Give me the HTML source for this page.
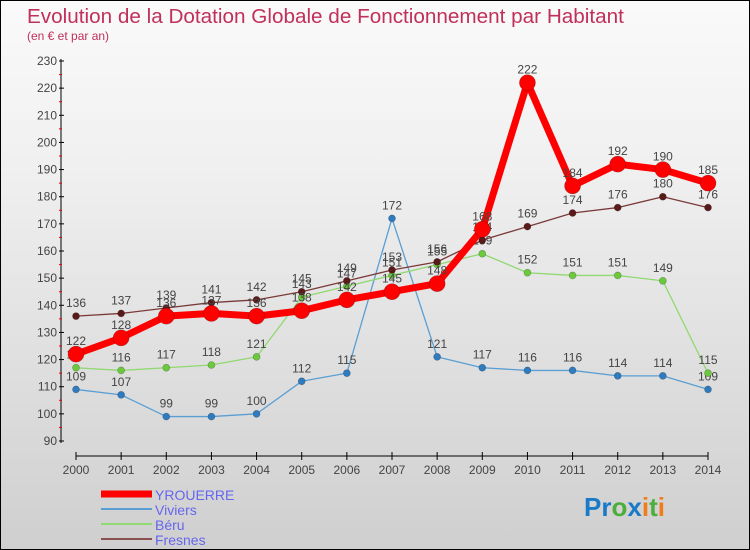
<!DOCTYPE html>
<html><head><meta charset="utf-8"><style>
body{margin:0}
#c{width:748px;height:548px;border:1px solid #000;background:linear-gradient(#fafafa,#f0f0f0 30%,#cfcfcf);position:relative;overflow:hidden;font-family:"Liberation Sans",sans-serif}
</style></head><body>
<div id="c">
<svg id="s" width="748" height="548" style="position:absolute;left:0;top:0">
<text x="26" y="22" font-size="20.7" fill="#c0305a">Evolution de la Dotation Globale de Fonctionnement par Habitant</text>
<text x="26" y="39" font-size="12" fill="#c0305a">(en € et par an)</text>
<g id="axes"></g><g id="series"></g><g id="legend"></g>
<text x="583" y="515" font-size="26" font-weight="bold"><tspan fill="#1a7ac8">Pr</tspan><tspan fill="#4cae3c">o</tspan><tspan fill="#1a7ac8">x</tspan><tspan fill="#f07d1a">i</tspan><tspan fill="#4cae3c">t</tspan><tspan fill="#f07d1a">i</tspan></text>
</svg></div>
<script>
const years=[2000,2001,2002,2003,2004,2005,2006,2007,2008,2009,2010,2011,2012,2013,2014];
const yrouerre=[122,128,136,137,136,138,142,145,148,168,222,184,192,190,185];
const viviers=[109,107,99,99,100,112,115,172,121,117,116,116,114,114,109];
const beru=[117,116,117,118,121,143,147,151,155,159,152,151,151,149,115];
const fresnes=[136,137,139,141,142,145,149,153,156,164,169,174,176,180,176];
const yTicks=[90,100,110,120,130,140,150,160,170,180,190,200,210,220,230];
const NS="http://www.w3.org/2000/svg";
const X=i=>75+i*(632/14), Y=v=>440-(v-90)*380/140;
function mk(p,t,a){const e=document.createElementNS(NS,t);for(const k in a)e.setAttribute(k,a[k]);p.appendChild(e);return e;}
const ax=document.getElementById('axes');
let e=mk(ax,'line',{x1:60,y1:58,x2:60,y2:442,stroke:'#000'});


e=mk(ax,'line',{x1:75,y1:455,x2:707,y2:455,stroke:'#000'});


yTicks.forEach((v,i)=>{
 mk(ax,'line',{x1:58,x2:63,y1:Y(v),y2:Y(v),stroke:'#000'});
 if(i<yTicks.length-1)mk(ax,'line',{x1:58,x2:61,y1:Y(v+5),y2:Y(v+5),stroke:'#e00'});
 const t=mk(ax,'text',{x:56,y:Y(v)+4,'font-size':12,fill:'#444','text-anchor':'end'});t.textContent=v;
 
 
});
years.forEach((y,i)=>{
 mk(ax,'line',{x1:X(i),x2:X(i),y1:451,y2:459,stroke:'#000'});
 const t=mk(ax,'text',{x:X(i),y:473,'font-size':12,fill:'#444','text-anchor':'middle'});t.textContent=y;
 
 
});
const sg=document.getElementById('series');
const defs=[[viviers,'#5a9fd4','#2f7bbf',1.3,3.5,'viviers'],[beru,'#90d870','#6cc83c',1.3,3.5,'beru'],[fresnes,'#7a3a3a','#5a1a1a',1.3,3.5,'fresnes'],[yrouerre,'#f00','#f00',7,8,'yrouerre']];
defs.forEach(([d,lc,pc,w,r,n])=>{
 const g=mk(sg,'g',{});
 
 
 mk(g,'polyline',{points:d.map((v,i)=>X(i)+','+Y(v)).join(' '),fill:'none',stroke:lc,'stroke-width':w,'stroke-linejoin':'round'});
 d.forEach((v,i)=>{
  const c=mk(g,'circle',{cx:X(i),cy:Y(v),r:r,fill:pc,stroke:'rgba(0,0,0,0.3)','stroke-width':0.6});
  
  
  const t=mk(g,'text',{x:X(i),y:Y(v)-9,'font-size':12,fill:'#444','text-anchor':'middle'});t.textContent=v;
  
  
 });
});
const lg=document.getElementById('legend');
[['YROUERRE','#f00',7],['Viviers','#5a9fd4',2],['Béru','#90d870',2],['Fresnes','#8a5050',2]].forEach(([n,c,w],i)=>{
 const y=493+i*15;
 const g=mk(lg,'g',{});
 
 
 mk(g,'line',{x1:100,x2:151,y1:y,y2:y,stroke:c,'stroke-width':w});
 const t=mk(g,'text',{x:154,y:y+6,'font-size':14,fill:'#6666ee'});t.textContent=n;
});
</script></body></html>
